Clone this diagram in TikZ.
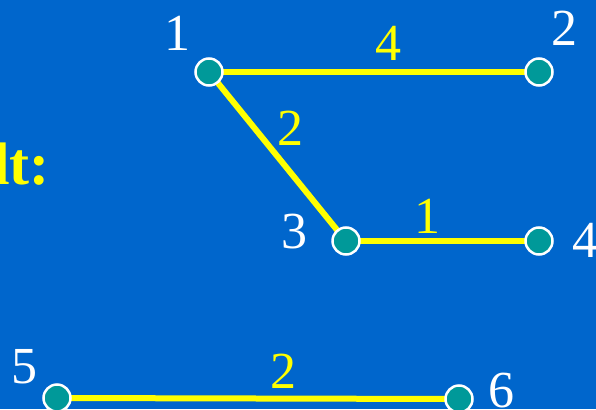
\documentclass[tikz,border=0pt]{standalone}
\usepackage{fontspec}
\setmainfont{Liberation Serif}
\definecolor{bg}{HTML}{0066CC}
\definecolor{teal}{HTML}{009999}
\definecolor{yel}{HTML}{FFFF00}
\begin{document}
\begin{tikzpicture}[x=1pt,y=-1pt,
  vert/.style={circle,fill=teal,draw=white,line width=2.5pt,minimum size=27pt,inner sep=0pt},
  edge/.style={draw=yel,line width=6pt},
  lab/.style={text=white,font=\fontsize{52}{52}\selectfont,inner sep=0pt},
  wt/.style={text=yel,font=\fontsize{52}{52}\selectfont,inner sep=0pt}]
\fill[bg] (0,0) rectangle (596,409);
\useasboundingbox (0,0) rectangle (596,409);
\clip (0,0) rectangle (596,409);
\node[text=yel,font=\bfseries\fontsize{60}{60}\selectfont,anchor=east,inner sep=0pt] (res) at (50,164) {lt:};
\coordinate (p1) at (209,72);
\coordinate (p2) at (539,72);
\coordinate (p3) at (346,241);
\coordinate (p4) at (539,241);
\coordinate (p5) at (57,398);
\coordinate (p6) at (459,399);
\draw[edge] (p1) -- (p2);
\draw[edge] (p1) -- (p3);
\draw[edge] (p3) -- (p4);
\draw[edge] (p5) -- (p6);
\node[vert] (n1) at (p1) {};
\node[vert] (n2) at (p2) {};
\node[vert] (n3) at (p3) {};
\node[vert] (n4) at (p4) {};
\node[vert] (n5) at (p5) {};
\node[vert] (n6) at (p6) {};
\node[lab] (l1) at (177,33) {1};
\node[lab] (l2) at (564,28) {2};
\node[lab] (l3) at (294,232) {3};
\node[lab] (l4) at (585,240) {4};
\node[lab] (l5) at (24,367) {5};
\node[lab] (l6) at (501,391) {6};
\node[wt] (w1) at (388,43) {4};
\node[wt] (w2) at (290,128) {2};
\node[wt] (w3) at (427,216) {1};
\node[wt] (w4) at (283,371) {2};
\end{tikzpicture}
\end{document}
